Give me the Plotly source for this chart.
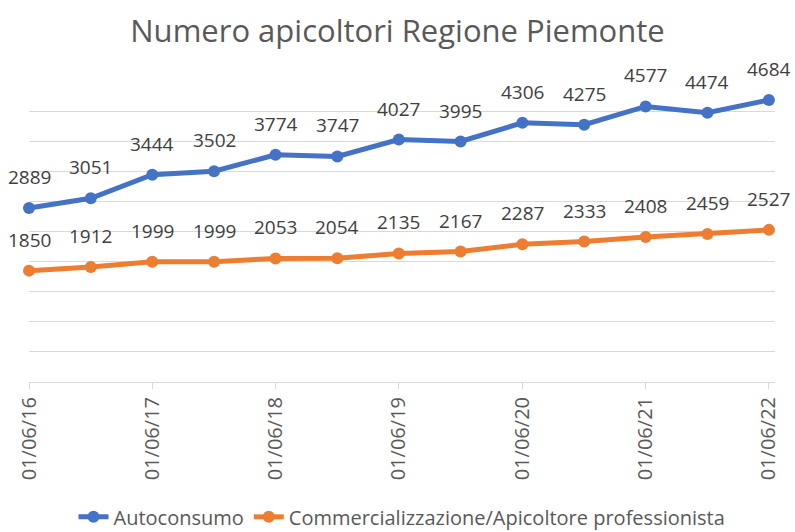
import plotly.graph_objects as go

dates = ["2016-06-01", "2016-12-01", "2017-06-01", "2017-12-01", "2018-06-01",
         "2018-12-01", "2019-06-01", "2019-12-01", "2020-06-01", "2020-12-01",
         "2021-06-01", "2021-12-01", "2022-06-01"]
autoconsumo = [2889, 3051, 3444, 3502, 3774, 3747, 4027, 3995, 4306, 4275, 4577, 4474, 4684]
commerciali = [1850, 1912, 1999, 1999, 2053, 2054, 2135, 2167, 2287, 2333, 2408, 2459, 2527]
tick_vals = ["2016-06-01", "2017-06-01", "2018-06-01", "2019-06-01", "2020-06-01",
             "2021-06-01", "2022-06-01"]
tick_text = ["01/06/16", "01/06/17", "01/06/18", "01/06/19", "01/06/20", "01/06/21", "01/06/22"]
names = ["Autoconsumo", "Commercializzazione/Apicoltore professionista"]
colors = ["#4472C4", "#ED7D31"]

FONT = "Open Sans"
fig = go.Figure()
for name, vals, col in zip(names, [autoconsumo, commerciali], colors):
    fig.add_trace(go.Scatter(
        x=dates, y=vals, name=name, mode="lines+markers",
        line=dict(color=col, width=5),
        marker=dict(color=col, size=12, symbol="circle"),
        cliponaxis=False,
    ))
    for d, v in zip(dates, vals):
        fig.add_annotation(x=d, y=v, text=str(v), showarrow=False, yshift=31,
                           xanchor="center", yanchor="middle",
                           font=dict(family=FONT, size=19, color="#404040"))

fig.update_layout(
    width=795, height=532,
    paper_bgcolor="white", plot_bgcolor="white",
    margin=dict(l=29, r=20, t=81, b=150, autoexpand=False),
    title=dict(text="Numero apicoltori Regione Piemonte", x=0.5, xanchor="center",
               y=1 - 31 / 532, yanchor="middle", yref="container",
               font=dict(family=FONT, size=31, color="#595959")),
    showlegend=True,
    legend=dict(orientation="h", x=0.5, xanchor="center", y=-0.448, yanchor="middle",
                font=dict(family=FONT, size=20, color="#595959"),
                itemwidth=30, tracegroupgap=0),
    xaxis=dict(type="date", range=["2016-06-01", "2022-06-19"],
               tickmode="array", tickvals=tick_vals, ticktext=tick_text,
               tickangle=-90, showgrid=False, showline=True, linecolor="#d9d9d9",
               linewidth=1, ticks="outside", tickcolor="#d9d9d9", ticklen=6,
               automargin=False,
               tickfont=dict(family=FONT, size=20, color="#595959")),
    yaxis=dict(range=[0, 5000], dtick=500, showticklabels=False, showgrid=True,
               gridcolor="#d9d9d9", gridwidth=1, zeroline=False, showline=False,
               automargin=False),
)
fig.write_html("out.html", config={"displayModeBar": False},
               post_script="document.body.style.margin='0';document.body.style.overflow='hidden';")
